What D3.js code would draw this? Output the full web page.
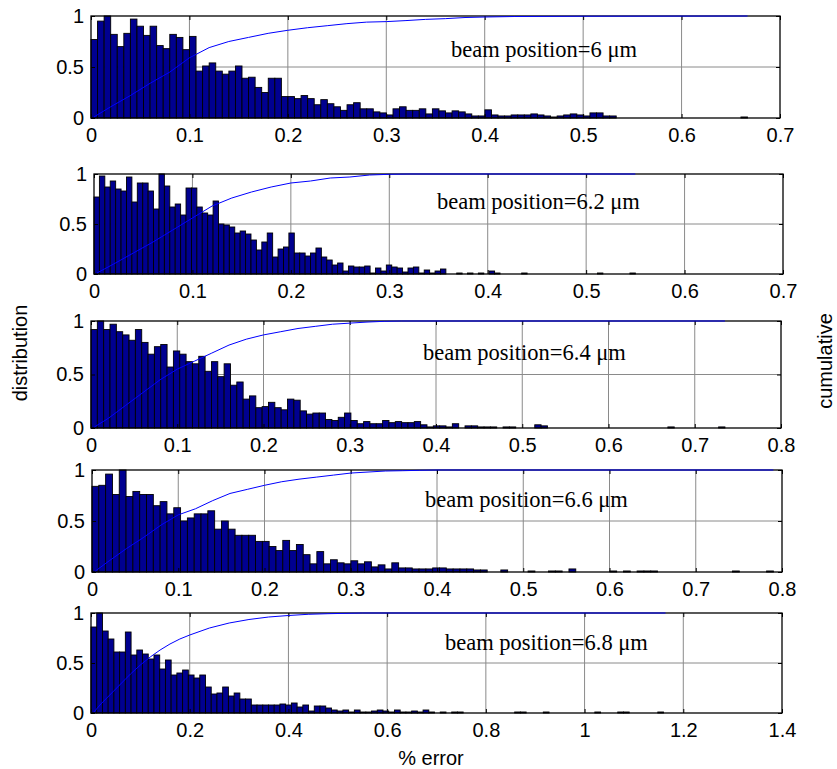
<!DOCTYPE html>
<html>
<head>
<meta charset="utf-8">
<script src="https://cdn.jsdelivr.net/npm/d3@7"></script>
<style>
  body { margin: 0; background: #fff; }
  text { font-family: "Liberation Sans", Arial, Helvetica, sans-serif; }
</style>
</head>
<body>
<svg id="fig" width="837" height="769"></svg>
<script>
// ---- data -------------------------------------------------------------
const beamLabels = [
  "beam position=6 \u03bcm",
  "beam position=6.2 \u03bcm",
  "beam position=6.4 \u03bcm",
  "beam position=6.6 \u03bcm",
  "beam position=6.8 \u03bcm"
];

// upper end of each % error axis
const xMax = [0.7, 0.7, 0.8, 0.8, 1.4];

const xTicks = [
  [0, 0.1, 0.2, 0.3, 0.4, 0.5, 0.6, 0.7],
  [0, 0.1, 0.2, 0.3, 0.4, 0.5, 0.6, 0.7],
  [0, 0.1, 0.2, 0.3, 0.4, 0.5, 0.6, 0.7, 0.8],
  [0, 0.1, 0.2, 0.3, 0.4, 0.5, 0.6, 0.7, 0.8],
  [0, 0.2, 0.4, 0.6, 0.8, 1, 1.2, 1.4]
];
const yTicks = [0, 0.5, 1];

// histogram bin width (100 bins over the range of each error sample)
const binWidth = [0.00667, 0.0055, 0.00735, 0.0079, 0.0116];

// normalised error distributions (100 bins each)
const dist6 = [
  0.77, 0.95, 1.00, 0.82, 0.70, 0.83, 0.97, 0.90, 0.81, 0.90,
  0.71, 0.68, 0.82, 0.79, 0.67, 0.80, 0.46, 0.51, 0.54, 0.46,
  0.43, 0.46, 0.51, 0.39, 0.40, 0.30, 0.25, 0.39, 0.39, 0.21,
  0.21, 0.19, 0.22, 0.19, 0.13, 0.18, 0.14, 0.11, 0.075, 0.13,
  0.15, 0.09, 0.09, 0.06, 0.05, 0.03, 0.09, 0.11, 0.075, 0.075,
  0.09, 0.04, 0.09, 0.07, 0.05, 0.07, 0.06, 0.04, 0.02, 0.02,
  0.08, 0.03, 0.02, 0.02, 0.03, 0.03, 0.03, 0.04, 0.03, 0.02,
  0.01, 0.02, 0.03, 0.04, 0.03, 0.02, 0.05, 0.05, 0.02, 0.02,
  0, 0, 0, 0, 0, 0, 0, 0, 0, 0,
  0, 0, 0, 0, 0, 0, 0, 0, 0, 0.01
];
const dist62 = [
  0.77, 0.98, 0.87, 0.93, 0.85, 0.83, 0.97, 0.72, 0.91, 0.91,
  0.83, 0.65, 1.00, 0.88, 0.67, 0.70, 0.59, 0.86, 0.86, 0.67,
  0.61, 0.59, 0.73, 0.50, 0.49, 0.47, 0.41, 0.43, 0.40, 0.34,
  0.24, 0.32, 0.41, 0.17, 0.25, 0.27, 0.41, 0.21, 0.21, 0.18,
  0.21, 0.26, 0.17, 0.14, 0.09, 0.11, 0.03, 0.08, 0.07, 0.07,
  0.08, 0.01, 0.06, 0.03, 0.09, 0.07, 0.06, 0.02, 0.06, 0.07,
  0.01, 0.04, 0.01, 0.03, 0.05, 0, 0, 0.01, 0, 0.01,
  0, 0.01, 0, 0.03, 0.01, 0, 0, 0, 0, 0.01,
  0, 0, 0, 0, 0, 0, 0, 0, 0, 0,
  0, 0, 0, 0.01, 0, 0, 0, 0, 0, 0.01
];
const dist64 = [
  0.92, 1.00, 0.92, 0.97, 0.90, 0.87, 0.82, 0.92, 0.80, 0.69,
  0.76, 0.78, 0.57, 0.72, 0.69, 0.62, 0.60, 0.67, 0.53, 0.62,
  0.48, 0.60, 0.40, 0.43, 0.27, 0.30, 0.19, 0.20, 0.24, 0.19,
  0.17, 0.27, 0.26, 0.16, 0.13, 0.14, 0.14, 0.08, 0.07, 0.10,
  0.14, 0.07, 0.04, 0.06, 0.04, 0.04, 0.07, 0.05, 0.06, 0.05,
  0.05, 0.06, 0.03, 0.01, 0.02, 0.02, 0.01, 0.04, 0, 0.02,
  0.02, 0.01, 0.01, 0.01, 0, 0.01, 0.01, 0, 0, 0,
  0.03, 0.02, 0, 0, 0, 0, 0, 0, 0, 0,
  0, 0, 0, 0, 0, 0, 0, 0, 0, 0,
  0, 0.01, 0, 0, 0, 0, 0, 0, 0, 0.01
];
const dist66 = [
  0.84, 0.85, 0.96, 0.76, 1.00, 0.74, 0.79, 0.76, 0.76, 0.65,
  0.69, 0.57, 0.63, 0.50, 0.53, 0.57, 0.57, 0.60, 0.42, 0.50,
  0.42, 0.36, 0.36, 0.36, 0.30, 0.30, 0.25, 0.21, 0.31, 0.21,
  0.27, 0.17, 0.08, 0.20, 0.08, 0.12, 0.09, 0.08, 0.11, 0.08,
  0.10, 0.05, 0.07, 0.03, 0.09, 0.04, 0.04, 0.03, 0.03, 0.03,
  0.04, 0.04, 0.03, 0.03, 0.03, 0.03, 0.02, 0.02, 0, 0,
  0.02, 0, 0, 0, 0.01, 0, 0, 0.01, 0.01, 0,
  0.03, 0, 0, 0, 0, 0, 0.01, 0, 0.01, 0,
  0.01, 0.01, 0.01, 0, 0, 0, 0, 0, 0, 0,
  0, 0, 0, 0, 0.01, 0, 0, 0, 0, 0.01
];
const dist68 = [
  0.86, 1.00, 0.82, 0.74, 0.61, 0.61, 0.81, 0.58, 0.63, 0.59,
  0.54, 0.58, 0.44, 0.53, 0.38, 0.40, 0.43, 0.38, 0.35, 0.38,
  0.26, 0.19, 0.20, 0.26, 0.17, 0.20, 0.14, 0.14, 0.08, 0.08,
  0.08, 0.08, 0.08, 0.09, 0.08, 0.10, 0.06, 0.08, 0.02, 0.07,
  0.07, 0.05, 0.03, 0.02, 0.03, 0.01, 0.03, 0.01, 0.01, 0.02,
  0.03, 0.02, 0.01, 0.03, 0.01, 0.01, 0.02, 0.01, 0.03, 0.01,
  0, 0.01, 0, 0.01, 0.01, 0, 0, 0, 0, 0,
  0, 0, 0, 0, 0.01, 0.01, 0, 0, 0, 0.01,
  0, 0, 0, 0, 0, 0, 0, 0, 0.01, 0,
  0, 0, 0.01, 0.01, 0, 0, 0, 0, 0, 0.01
];

// cumulative curves (% error, cumulative fraction)
const cumX6  = [0.003, 0.02, 0.04, 0.06, 0.08, 0.10, 0.12, 0.14, 0.16, 0.18, 0.20, 0.22, 0.24, 0.26, 0.28, 0.30, 0.32, 0.34, 0.36, 0.38, 0.40, 0.43, 0.50, 0.667];
const cumY6  = [0.01, 0.11, 0.22, 0.34, 0.45, 0.59, 0.69, 0.75, 0.79, 0.83, 0.86, 0.885, 0.905, 0.925, 0.94, 0.945, 0.955, 0.967, 0.974, 0.985, 0.99, 0.995, 0.998, 1.0];
const cumX62 = [0.003, 0.02, 0.04, 0.06, 0.08, 0.10, 0.12, 0.14, 0.16, 0.18, 0.20, 0.22, 0.24, 0.26, 0.28, 0.30, 0.32, 0.55];
const cumY62 = [0.01, 0.10, 0.21, 0.32, 0.44, 0.56, 0.68, 0.76, 0.82, 0.87, 0.91, 0.93, 0.96, 0.97, 0.99, 0.997, 1.0, 1.0];
const cumX64 = [0.004, 0.02, 0.04, 0.06, 0.08, 0.10, 0.12, 0.14, 0.16, 0.18, 0.20, 0.22, 0.24, 0.26, 0.28, 0.30, 0.32, 0.34, 0.36, 0.735];
const cumY64 = [0.01, 0.09, 0.21, 0.33, 0.45, 0.55, 0.625, 0.70, 0.775, 0.83, 0.87, 0.90, 0.93, 0.95, 0.97, 0.98, 0.99, 0.997, 1.0, 1.0];
const cumX66 = [0.004, 0.02, 0.04, 0.06, 0.08, 0.10, 0.12, 0.14, 0.16, 0.18, 0.20, 0.22, 0.24, 0.26, 0.28, 0.30, 0.32, 0.34, 0.36, 0.38, 0.40, 0.79];
const cumY66 = [0.01, 0.11, 0.23, 0.34, 0.46, 0.56, 0.62, 0.70, 0.77, 0.81, 0.85, 0.885, 0.91, 0.93, 0.95, 0.97, 0.98, 0.99, 0.993, 0.997, 1.0, 1.0];
const cumX68 = [0.006, 0.02, 0.04, 0.06, 0.08, 0.10, 0.12, 0.14, 0.16, 0.18, 0.20, 0.24, 0.28, 0.32, 0.36, 0.40, 0.44, 0.48, 0.55, 1.164];
const cumY68 = [0.01, 0.09, 0.19, 0.29, 0.39, 0.48, 0.56, 0.63, 0.69, 0.74, 0.78, 0.85, 0.90, 0.935, 0.96, 0.975, 0.987, 0.993, 1.0, 1.0];

const dists = [dist6, dist62, dist64, dist66, dist68];
const cumXs = [cumX6, cumX62, cumX64, cumX66, cumX68];
const cumYs = [cumY6, cumY62, cumY64, cumY66, cumY68];

// ---- layout -------------------------------------------------------------
// plot box of each subplot and the anchor of its annotation
const boxes = [
  { l: 91, r: 780, t: 16,  b: 118, tx: 451, ty: 57  },
  { l: 94, r: 783, t: 174, b: 274, tx: 437, ty: 209 },
  { l: 91, r: 781, t: 321, b: 428, tx: 423, ty: 360 },
  { l: 92, r: 782, t: 470, b: 572, tx: 425, ty: 507 },
  { l: 91, r: 782, t: 613, b: 713, tx: 445, ty: 650 }
];

const BAR_FILL = "#000090";
const GRID = "#8a8a8a";
const LINE = "#0000ff";
const FONT = 20;

const svg = d3.select("#fig");

boxes.forEach((bx, i) => {
  const x = d3.scaleLinear().domain([0, xMax[i]]).range([bx.l, bx.r]);
  const y = d3.scaleLinear().domain([0, 1]).range([bx.b, bx.t]);
  const g = svg.append("g");

  // grid
  g.selectAll("line.vgrid").data(xTicks[i].slice(1, -1)).join("line")
    .attr("x1", d => x(d)).attr("x2", d => x(d))
    .attr("y1", bx.t).attr("y2", bx.b)
    .attr("stroke", GRID).attr("stroke-width", 1);
  g.selectAll("line.hgrid").data([0.5]).join("line")
    .attr("x1", bx.l).attr("x2", bx.r)
    .attr("y1", d => y(d)).attr("y2", d => y(d))
    .attr("stroke", GRID).attr("stroke-width", 1);

  // histogram bars
  const bars = dists[i].map((v, k) => ({ x0: k * binWidth[i], x1: (k + 1) * binWidth[i], v }))
    .filter(d => d.v > 0);
  g.selectAll("rect.bar").data(bars).join("rect")
    .attr("x", d => x(d.x0))
    .attr("width", d => x(d.x1) - x(d.x0))
    .attr("y", d => y(d.v))
    .attr("height", d => y(0) - y(d.v))
    .attr("fill", BAR_FILL)
    .attr("stroke", "#000")
    .attr("stroke-width", 0.9);

  // axes (ticks point inward, frame drawn separately)
  const fmt = d => String(d);
  const bottom = g.append("g").attr("transform", `translate(0,${bx.b})`)
    .call(d3.axisBottom(x).tickValues(xTicks[i]).tickFormat(fmt).tickSizeInner(-4).tickSizeOuter(0).tickPadding(10));
  const top = g.append("g").attr("transform", `translate(0,${bx.t})`)
    .call(d3.axisTop(x).tickValues(xTicks[i]).tickFormat("").tickSizeInner(-4).tickSizeOuter(0));
  const left = g.append("g").attr("transform", `translate(${bx.l},0)`)
    .call(d3.axisLeft(y).tickValues(yTicks).tickFormat(fmt).tickSizeInner(-4).tickSizeOuter(0).tickPadding(7));
  const right = g.append("g").attr("transform", `translate(${bx.r},0)`)
    .call(d3.axisRight(y).tickValues(yTicks).tickFormat("").tickSizeInner(-4).tickSizeOuter(0));
  [bottom, top, left, right].forEach(a => {
    a.select(".domain").remove();
    a.selectAll(".tick line").attr("stroke", "#000");
    a.selectAll("text").attr("fill", "#000").style("font-size", FONT + "px")
      .style("font-family", '"Liberation Sans", Arial, sans-serif');
  });

  // frame
  g.append("rect")
    .attr("x", bx.l).attr("y", bx.t)
    .attr("width", bx.r - bx.l).attr("height", bx.b - bx.t)
    .attr("fill", "none").attr("stroke", "#000").attr("stroke-width", 1.3);

  // cumulative curve
  const pts = cumXs[i].map((cx, k) => [cx, cumYs[i][k]]);
  g.append("path")
    .datum(pts)
    .attr("d", d3.line().x(d => x(d[0])).y(d => y(d[1])))
    .attr("fill", "none").attr("stroke", LINE).attr("stroke-width", 1);

  // annotation
  g.append("text")
    .attr("x", bx.tx).attr("y", bx.ty)
    .style("font-family", '"Liberation Serif", "Times New Roman", serif')
    .style("font-size", "22.5px")
    .attr("fill", "#000")
    .text(beamLabels[i]);
});

// shared axis titles
svg.append("text")
  .attr("transform", "translate(20,353) rotate(-90)")
  .attr("text-anchor", "middle").attr("dominant-baseline", "central")
  .style("font-size", FONT + "px").attr("fill", "#000")
  .text("distribution");
svg.append("text")
  .attr("transform", "translate(825,361) rotate(-90)")
  .attr("text-anchor", "middle").attr("dominant-baseline", "central")
  .style("font-size", FONT + "px").attr("fill", "#000")
  .text("cumulative");
svg.append("text")
  .attr("x", 431).attr("y", 765)
  .attr("text-anchor", "middle")
  .style("font-size", FONT + "px").attr("fill", "#000")
  .text("% error");
</script>
</body>
</html>
